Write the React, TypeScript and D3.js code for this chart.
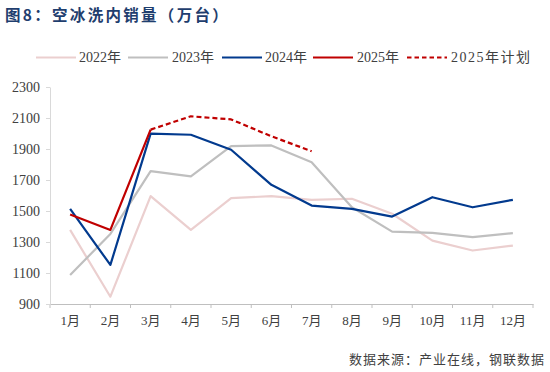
import { useEffect, useRef } from "react";
import * as d3 from "d3";

const WIDTH = 550;
const HEIGHT = 372;
const MARGIN = { top: 87, right: 17, bottom: 68, left: 50 };

const months = ["1月", "2月", "3月", "4月", "5月", "6月", "7月", "8月", "9月", "10月", "11月", "12月"];
const yTicks = [900, 1100, 1300, 1500, 1700, 1900, 2100, 2300];

const sales2022 = [1378, 947, 1596, 1378, 1583, 1596, 1572, 1579, 1482, 1309, 1245, 1277];
const sales2023 = [1087, 1352, 1757, 1723, 1919, 1923, 1815, 1524, 1367, 1359, 1331, 1357];
const sales2024 = [1514, 1152, 1999, 1992, 1895, 1669, 1535, 1514, 1464, 1589, 1524, 1572];
const sales2025 = [1477, 1378, 2025];
// plan starts from March
const plan2025 = [2025, 2111, 2091, 1982, 1886];

type Series = { name: string; values: (number | null)[]; color: string; dash?: string };

const series: Series[] = [
  { name: "2022年", values: sales2022, color: "#EBCFCF" },
  { name: "2023年", values: sales2023, color: "#BFBFBF" },
  { name: "2024年", values: sales2024, color: "#023A8E" },
  { name: "2025年", values: sales2025, color: "#C00000" },
  { name: "2025年计划", values: [null, null, ...plan2025], color: "#C00000", dash: "5,3" },
];

const App = () => {
  const axesRef = useRef<SVGGElement>(null);
  const boundsWidth = WIDTH - MARGIN.left - MARGIN.right;
  const boundsHeight = HEIGHT - MARGIN.top - MARGIN.bottom;

  const xScale = d3.scaleBand().domain(months).range([0, boundsWidth]);
  const yScale = d3.scaleLinear().domain([900, 2300]).range([boundsHeight, 0]);

  useEffect(() => {
    const g = d3.select(axesRef.current);
    g.selectAll("*").remove();

    const xAxis = g
      .append("g")
      .attr("transform", `translate(0,${boundsHeight})`)
      .call(d3.axisBottom(xScale).tickSize(0).tickPadding(12));
    xAxis.select(".domain").attr("stroke", "#BFBFBF");
    xAxis
      .selectAll("text")
      .style("font-family", "'Liberation Serif', 'Noto Sans CJK SC', serif")
      .style("font-size", "13px")
      .attr("fill", "#404040");
    // band boundary ticks
    xAxis
      .selectAll(".bound")
      .data(d3.range(months.length + 1))
      .enter()
      .append("line")
      .attr("x1", (i) => i * xScale.bandwidth())
      .attr("x2", (i) => i * xScale.bandwidth())
      .attr("y1", 0)
      .attr("y2", 4)
      .attr("stroke", "#BFBFBF");

    const yAxis = g
      .append("g")
      .call(d3.axisLeft(yScale).tickValues(yTicks).tickSize(4).tickSizeOuter(0).tickPadding(6).tickFormat(d3.format("d")));
    yAxis.select(".domain").attr("stroke", "#D9D9D9");
    yAxis.selectAll("line").attr("stroke", "#D9D9D9");
    yAxis
      .selectAll("text")
      .style("font-family", "'Liberation Serif', serif")
      .style("font-size", "14px")
      .attr("fill", "#404040");
  }, []);

  const line = d3
    .line<number | null>()
    .defined((d) => d !== null)
    .x((_, i) => xScale(months[i])! + xScale.bandwidth() / 2)
    .y((d) => yScale(d as number));

  const legendItems = [
    { x: 36, textX: 79 },
    { x: 128, textX: 172 },
    { x: 222, textX: 265 },
    { x: 313, textX: 357 },
    { x: 407, textX: 451 },
  ];

  return (
    <svg width={WIDTH} height={HEIGHT} style={{ position: "absolute", left: 0, top: 0 }}>
      <text
        x={5}
        y={21}
        fill="#1F3E6E"
        fontWeight="bold"
        fontSize={15.5}
        fontFamily="'Noto Sans CJK SC', sans-serif"
        letterSpacing={2.3}
      >
        图8：空冰洗内销量（万台）
      </text>
      <g>
        {series.map((s, i) => (
          <g key={s.name}>
            <line
              x1={legendItems[i].x}
              x2={legendItems[i].x + 40}
              y1={57.5}
              y2={57.5}
              stroke={s.color}
              strokeWidth={2.2}
              strokeDasharray={s.dash ? "4.5,3" : undefined}
            />
            <text
              x={legendItems[i].textX}
              y={62}
              fontSize={14}
              fill="#404040"
              fontFamily="'Liberation Serif', 'Noto Sans CJK SC', serif"
              letterSpacing={i === 4 ? 1.5 : 0}
            >
              {s.name}
            </text>
          </g>
        ))}
      </g>
      <g transform={`translate(${MARGIN.left},${MARGIN.top})`}>
        {series.map((s) => (
          <path
            key={s.name}
            d={line(s.values) ?? ""}
            fill="none"
            stroke={s.color}
            strokeWidth={2.2}
            strokeDasharray={s.dash}
            strokeLinejoin="round"
          />
        ))}
      </g>
      <g ref={axesRef} transform={`translate(${MARGIN.left},${MARGIN.top})`} />
      <text
        x={545}
        y={364}
        textAnchor="end"
        fontSize={13}
        fill="#404040"
        letterSpacing={1}
        fontFamily="'Noto Sans CJK SC', sans-serif"
      >
        数据来源：产业在线，钢联数据
      </text>
    </svg>
  );
};

export default App;
